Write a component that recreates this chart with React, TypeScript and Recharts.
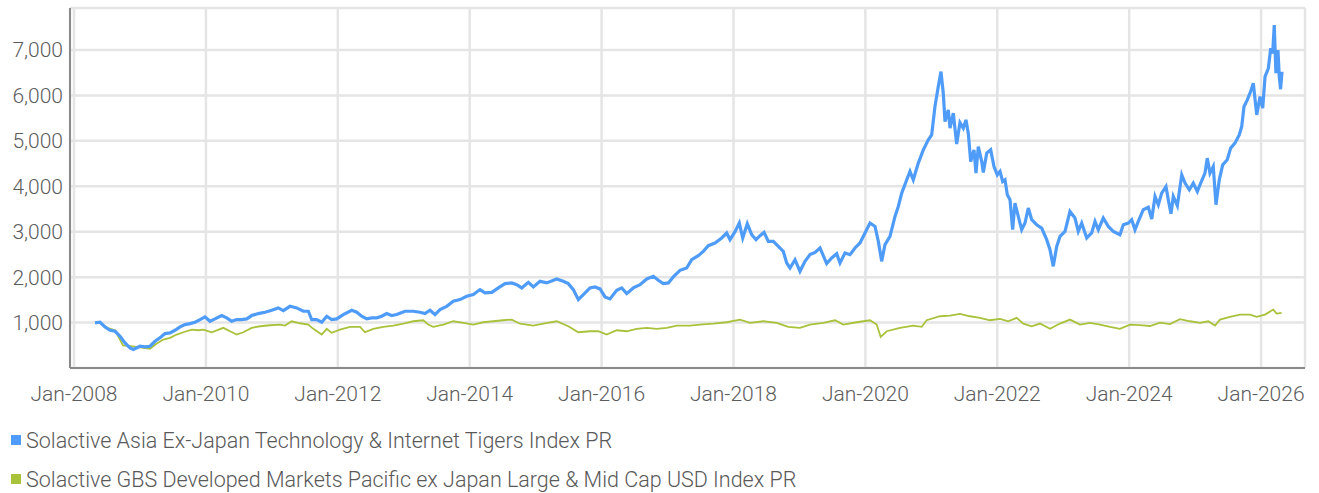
import { LineChart, Line, XAxis, YAxis, CartesianGrid } from 'recharts';

// values (decimal year, index level)
const tigersDates = [
  2008.318, 2008.394, 2008.47, 2008.546, 2008.622, 2008.698, 2008.773, 2008.849, 2008.899, 2009.001,
  2009.077, 2009.152, 2009.228, 2009.304, 2009.38, 2009.456, 2009.531, 2009.607, 2009.683, 2009.759,
  2009.835, 2009.911, 2009.986, 2010.062, 2010.138, 2010.24, 2010.315, 2010.391, 2010.467, 2010.543,
  2010.619, 2010.694, 2010.795, 2010.896, 2010.998, 2011.098, 2011.174, 2011.275, 2011.377, 2011.477,
  2011.553, 2011.604, 2011.68, 2011.756, 2011.832, 2011.907, 2011.983, 2012.083, 2012.211, 2012.287,
  2012.362, 2012.438, 2012.514, 2012.59, 2012.666, 2012.741, 2012.817, 2012.893, 2013.019, 2013.145,
  2013.246, 2013.322, 2013.398, 2013.474, 2013.55, 2013.651, 2013.751, 2013.853, 2013.954, 2014.055,
  2014.156, 2014.232, 2014.334, 2014.434, 2014.535, 2014.637, 2014.713, 2014.789, 2014.889, 2014.965,
  2015.066, 2015.168, 2015.319, 2015.419, 2015.495, 2015.571, 2015.647, 2015.723, 2015.824, 2015.9,
  2015.976, 2016.052, 2016.127, 2016.229, 2016.305, 2016.381, 2016.481, 2016.583, 2016.684, 2016.784,
  2016.86, 2016.936, 2017.012, 2017.087, 2017.189, 2017.29, 2017.366, 2017.466, 2017.542, 2017.618,
  2017.719, 2017.821, 2017.897, 2017.947, 2018.023, 2018.088, 2018.14, 2018.209, 2018.276, 2018.341,
  2018.402, 2018.463, 2018.528, 2018.604, 2018.68, 2018.755, 2018.807, 2018.857, 2018.933, 2019.008,
  2019.084, 2019.16, 2019.236, 2019.312, 2019.413, 2019.489, 2019.565, 2019.615, 2019.691, 2019.767,
  2019.842, 2019.918, 2019.994, 2020.07, 2020.146, 2020.196, 2020.247, 2020.297, 2020.373, 2020.449,
  2020.499, 2020.551, 2020.627, 2020.676, 2020.726, 2020.802, 2020.878, 2020.954, 2021.005, 2021.055,
  2021.105, 2021.146, 2021.181, 2021.207, 2021.257, 2021.283, 2021.333, 2021.384, 2021.434, 2021.484,
  2021.525, 2021.56, 2021.597, 2021.647, 2021.677, 2021.712, 2021.764, 2021.788, 2021.84, 2021.9,
  2021.95, 2022.0, 2022.041, 2022.082, 2022.117, 2022.152, 2022.193, 2022.233, 2022.268, 2022.318,
  2022.37, 2022.42, 2022.47, 2022.522, 2022.597, 2022.673, 2022.749, 2022.799, 2022.849, 2022.901,
  2022.951, 2023.027, 2023.102, 2023.178, 2023.228, 2023.28, 2023.356, 2023.431, 2023.482, 2023.532,
  2023.607, 2023.683, 2023.759, 2023.86, 2023.911, 2023.987, 2024.038, 2024.088, 2024.138, 2024.214,
  2024.29, 2024.342, 2024.392, 2024.442, 2024.493, 2024.558, 2024.593, 2024.634, 2024.669, 2024.73,
  2024.797, 2024.847, 2024.912, 2024.972, 2025.033, 2025.084, 2025.149, 2025.184, 2025.225, 2025.275,
  2025.316, 2025.366, 2025.418, 2025.487, 2025.539, 2025.604, 2025.669, 2025.706, 2025.741, 2025.791,
  2025.832, 2025.882, 2025.934, 2025.984, 2026.025, 2026.06, 2026.11, 2026.146, 2026.176, 2026.2,
  2026.225, 2026.256, 2026.276, 2026.296, 2026.317,
];
const tigersValues = [
  993, 1007, 905, 831, 809, 699, 553, 443, 407, 479,
  466, 479, 589, 664, 758, 774, 831, 905, 956, 978,
  1007, 1066, 1125, 1029, 1081, 1154, 1103, 1029, 1066, 1066,
  1081, 1154, 1198, 1227, 1271, 1323, 1264, 1358, 1323, 1249,
  1249, 1066, 1066, 1007, 1139, 1066, 1081, 1176, 1271, 1227,
  1139, 1081, 1103, 1103, 1139, 1198, 1154, 1176, 1249, 1249,
  1227, 1198, 1271, 1176, 1286, 1358, 1469, 1506, 1578, 1616,
  1726, 1653, 1666, 1763, 1857, 1873, 1835, 1763, 1886, 1785,
  1908, 1873, 1961, 1908, 1857, 1726, 1506, 1616, 1763, 1785,
  1741, 1565, 1521, 1711, 1763, 1638, 1763, 1835, 1961, 2018,
  1930, 1857, 1873, 2005, 2150, 2202, 2385, 2473, 2567, 2693,
  2752, 2862, 2972, 2825, 3000, 3191, 2862, 3176, 2934, 2825,
  2912, 2985, 2787, 2787, 2677, 2567, 2312, 2202, 2385, 2128,
  2348, 2495, 2545, 2642, 2297, 2422, 2517, 2312, 2532, 2495,
  2642, 2752, 2972, 3191, 3117, 2787, 2348, 2715, 2897, 3337,
  3556, 3851, 4143, 4326, 4143, 4510, 4803, 5022, 5132, 5755,
  6194, 6524, 6049, 5425, 5682, 5279, 5609, 4930, 5400, 5279,
  5462, 5169, 4545, 4803, 4290, 4875, 4545, 4304, 4730, 4803,
  4436, 4253, 4326, 4106, 4143, 3814, 3704, 3044, 3631, 3337,
  3044, 3191, 3521, 3264, 3154, 3081, 2825, 2605, 2238, 2677,
  2897, 3007, 3447, 3301, 3007, 3191, 2862, 2972, 3227, 3044,
  3301, 3117, 3007, 2934, 3154, 3191, 3264, 3044, 3227, 3484,
  3540, 3280, 3776, 3594, 3851, 3996, 3704, 3396, 3776, 3572,
  4253, 4071, 3923, 4071, 3886, 4071, 4290, 4620, 4290, 4436,
  3594, 4143, 4473, 4583, 4840, 4950, 5132, 5315, 5755, 5902,
  6049, 6269, 5572, 5974, 5719, 6414, 6598, 7038, 6928, 7550,
  6489, 7000, 6414, 6137, 6524,
];

const pacificDates = [
  2008.318, 2008.394, 2008.5, 2008.622, 2008.743, 2008.955, 2009.152, 2009.254, 2009.354, 2009.456,
  2009.557, 2009.657, 2009.785, 2009.885, 2009.961, 2010.088, 2010.264, 2010.365, 2010.467, 2010.567,
  2010.694, 2010.82, 2010.972, 2011.124, 2011.199, 2011.301, 2011.427, 2011.553, 2011.629, 2011.756,
  2011.832, 2011.907, 2012.033, 2012.185, 2012.337, 2012.412, 2012.538, 2012.69, 2012.842, 2012.993,
  2013.145, 2013.296, 2013.372, 2013.448, 2013.6, 2013.751, 2013.903, 2014.055, 2014.206, 2014.358,
  2014.51, 2014.637, 2014.763, 2014.965, 2015.116, 2015.319, 2015.495, 2015.647, 2015.824, 2015.95,
  2016.077, 2016.229, 2016.381, 2016.532, 2016.684, 2016.836, 2016.987, 2017.139, 2017.341, 2017.493,
  2017.694, 2017.897, 2018.099, 2018.251, 2018.452, 2018.655, 2018.831, 2019.008, 2019.16, 2019.362,
  2019.539, 2019.665, 2019.868, 2020.07, 2020.171, 2020.232, 2020.323, 2020.525, 2020.726, 2020.854,
  2020.929, 2021.131, 2021.283, 2021.434, 2021.586, 2021.738, 2021.889, 2022.041, 2022.167, 2022.294,
  2022.394, 2022.522, 2022.647, 2022.799, 2022.951, 2023.102, 2023.254, 2023.406, 2023.557, 2023.709,
  2023.86, 2024.012, 2024.164, 2024.316, 2024.467, 2024.619, 2024.77, 2024.922, 2025.074, 2025.199,
  2025.301, 2025.377, 2025.528, 2025.68, 2025.832, 2025.933, 2026.059, 2026.185, 2026.236, 2026.312,
];
const pacificValues = [
  993, 1000, 884, 830, 495, 466, 422, 538, 626, 664,
  736, 787, 846, 831, 846, 787, 884, 809, 736, 787,
  884, 919, 941, 956, 934, 1029, 985, 956, 862, 736,
  862, 774, 846, 905, 905, 787, 862, 905, 934, 978,
  1029, 1051, 956, 905, 956, 1029, 993, 956, 1007, 1029,
  1051, 1066, 975, 934, 978, 1029, 919, 787, 809, 809,
  736, 831, 809, 862, 884, 862, 884, 934, 934, 956,
  978, 1007, 1066, 993, 1029, 993, 905, 884, 956, 993,
  1051, 956, 1007, 1051, 956, 686, 809, 884, 934, 905,
  1051, 1139, 1154, 1190, 1139, 1103, 1051, 1081, 1029, 1103,
  978, 919, 978, 862, 978, 1066, 956, 993, 956, 905,
  862, 956, 945, 925, 1000, 965, 1075, 1029, 993, 1029,
  934, 1066, 1125, 1176, 1176, 1125, 1176, 1286, 1198, 1213,
];

const yearTicks = [2008, 2010, 2012, 2014, 2016, 2018, 2020, 2022, 2024, 2026];
const valueTicks = [1000, 2000, 3000, 4000, 5000, 6000, 7000];

const seriesNames = [
  'Solactive Asia Ex-Japan Technology & Internet Tigers Index PR',
  'Solactive GBS Developed Markets Pacific ex Japan Large & Mid Cap USD Index PR',
];
const seriesColors = ['#4f9cf8', '#a8c23b'];

const toRows = (dates: number[], values: number[]) =>
  dates.map((t, i) => ({ t, v: values[i] }));

const tigers = toRows(tigersDates, tigersValues);
const pacific = toRows(pacificDates, pacificValues);

const tickStyle = { fill: '#5c5c5c', fontSize: 21, fontWeight: 300 };

const App = () => {
  return (
    <div
      style={{
        position: 'absolute',
        left: 0,
        top: 0,
        width: 1319,
        height: 493,
        fontFamily: 'Roboto, sans-serif',
        background: '#fff',
      }}
    >
      <LineChart width={1319} height={410} margin={{ top: 8, right: 14, bottom: 0, left: 0 }}>
        <CartesianGrid stroke="#e5e5e5" strokeWidth={2.5} />
        <XAxis
          type="number"
          dataKey="t"
          domain={[2007.939, 2026.666]}
          allowDataOverflow
          ticks={yearTicks}
          interval={0}
          tickFormatter={(y: number) => `Jan-${y}`}
          tick={tickStyle}
          tickLine={false}
          tickMargin={12}
          height={42}
          axisLine={{ stroke: '#8a8a8a', strokeWidth: 2 }}
        />
        <YAxis
          type="number"
          domain={[0, 7925]}
          allowDataOverflow
          ticks={valueTicks}
          interval={0}
          tickFormatter={(v: number) => v.toLocaleString('en-US')}
          tick={tickStyle}
          tickLine={false}
          tickMargin={1}
          width={70}
          axisLine={{ stroke: '#8a8a8a', strokeWidth: 2 }}
        />
        <Line
          data={pacific}
          dataKey="v"
          name={seriesNames[1]}
          stroke={seriesColors[1]}
          strokeWidth={1.8}
          dot={false}
          activeDot={false}
          isAnimationActive={false}
        />
        <Line
          data={tigers}
          dataKey="v"
          name={seriesNames[0]}
          stroke={seriesColors[0]}
          strokeWidth={3.2}
          dot={false}
          activeDot={false}
          isAnimationActive={false}
        />
      </LineChart>
      {seriesNames.map((name, i) => (
        <div
          key={name}
          style={{
            position: 'absolute',
            left: 11,
            top: i === 0 ? 427 : 466,
            height: 26,
            display: 'flex',
            alignItems: 'center',
            color: '#595959',
            fontSize: 21.5,
            fontWeight: 300,
            whiteSpace: 'nowrap',
          }}
        >
          <span
            style={{
              display: 'inline-block',
              width: 10,
              height: 10,
              background: seriesColors[i],
              marginRight: 5,
            }}
          />
          {name}
        </div>
      ))}
    </div>
  );
};

export default App;
